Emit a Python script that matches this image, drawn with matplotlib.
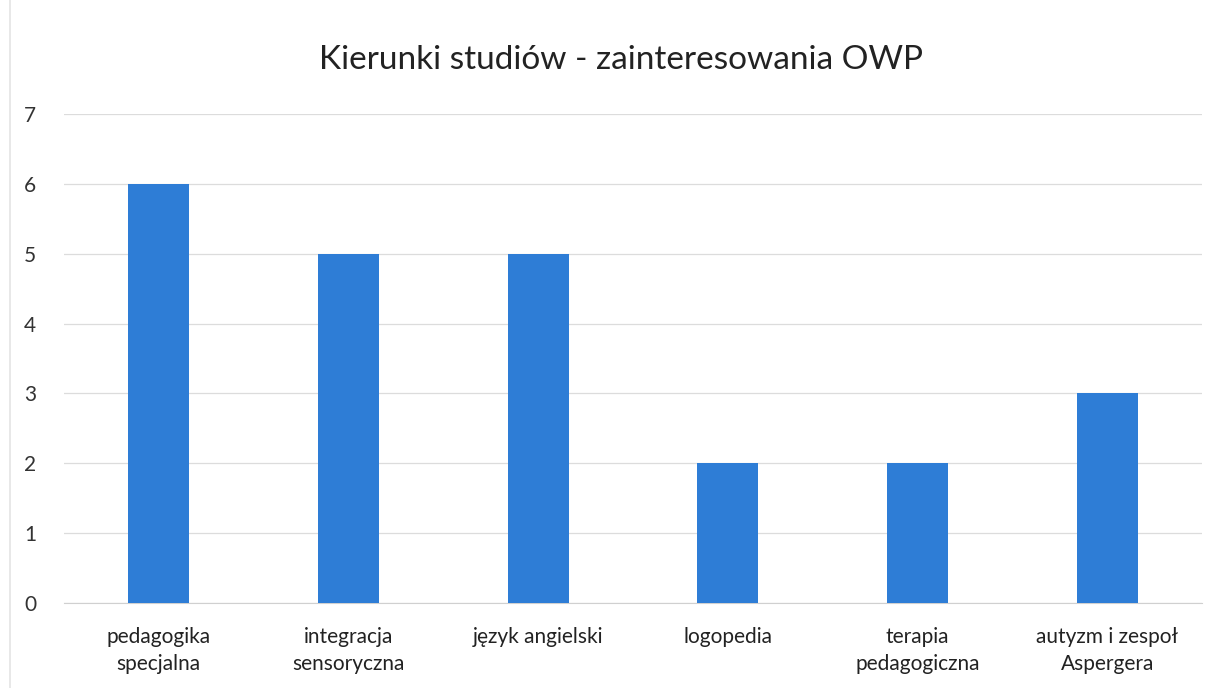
"""Kierunki studiów - zainteresowania OWP (bar chart)."""

import matplotlib.pyplot as plt

categories = [
    "pedagogika\nspecjalna",
    "integracja\nsensoryczna",
    "język angielski",
    "logopedia",
    "terapia\npedagogiczna",
    "autyzm i zespoł\nAspergera",
]
values = [6, 5, 5, 2, 2, 3]
y_ticks = [0, 1, 2, 3, 4, 5, 6, 7]

plt.rcParams['font.family'] = ['Lato', 'DejaVu Sans']

fig = plt.figure(figsize=(12.21, 6.88), dpi=100)
ax = fig.add_axes([64 / 1221, 1 - 603 / 688, (1202 - 64) / 1221, (603 - 114) / 688])

x = range(len(categories))
ax.bar(x, values, width=0.32, color='#2e7dd6', zorder=3)

ax.set_xlim(-0.5, len(categories) - 0.5)
ax.set_ylim(0, 7)
ax.set_yticks(y_ticks)
ax.set_xticks(list(x))
ax.set_xticklabels(categories, fontsize=15, color='#222222', linespacing=1.45)
ax.tick_params(axis='y', labelsize=15, labelcolor='#333333', length=0, pad=20)
ax.tick_params(axis='x', length=0, pad=17)

ax.grid(axis='y', color='#dcdcdc', linewidth=0.9, zorder=0)
for side in ['top', 'right', 'left']:
    ax.spines[side].set_visible(False)
ax.spines['bottom'].set_color('#d0d0d0')

fig.text(621 / 1221, 1 - 60 / 688, "Kierunki studiów - zainteresowania OWP",
         ha='center', va='center', fontsize=24, color='#222222')

# faint frame line on the left like the scanned original
fig.add_artist(plt.Line2D([10 / 1221, 10 / 1221], [0, 1], color='#e4e4e4', lw=1.2))

fig.savefig('out.png', dpi=100)
